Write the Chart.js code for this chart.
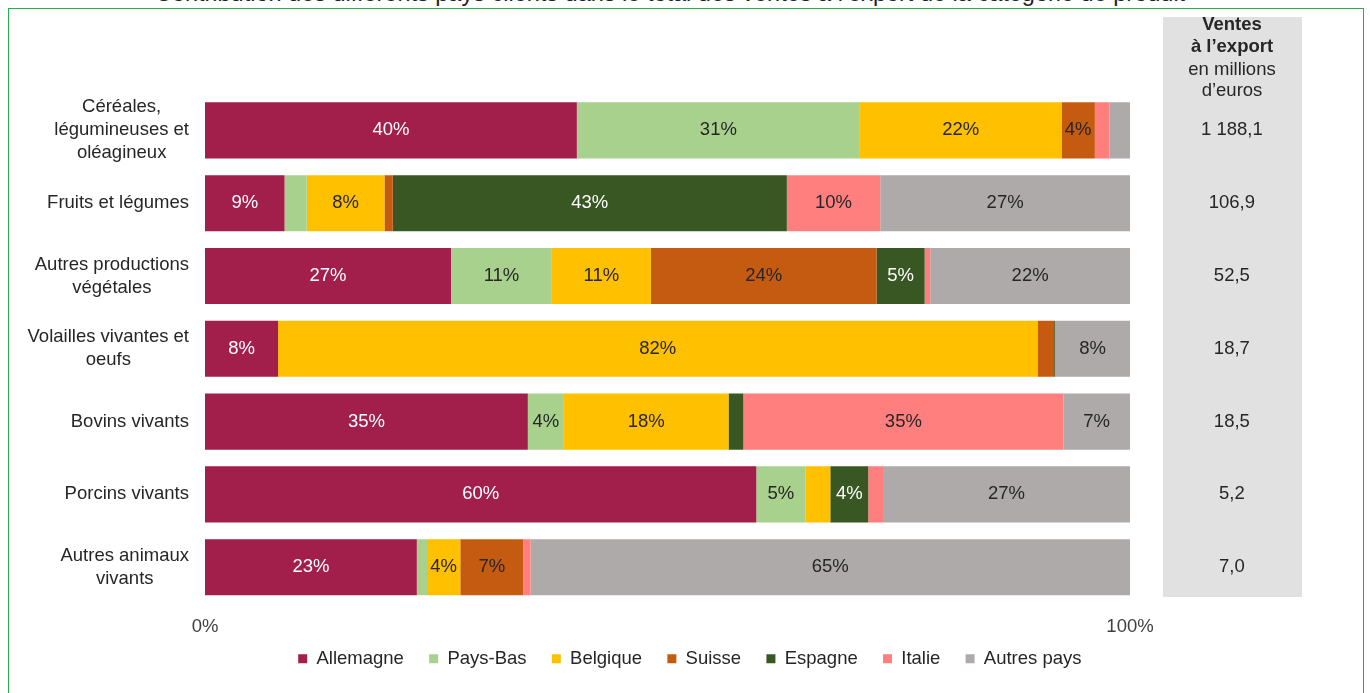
<!DOCTYPE html>
<html lang="fr">
<head>
<meta charset="utf-8">
<script src="https://cdn.jsdelivr.net/npm/chart.js@4.4.1/dist/chart.umd.min.js"></script>
<style>
body { margin: 0; width: 1370px; height: 693px; overflow: hidden; background: #fff; position: relative; font-family: "Liberation Sans", Arial, sans-serif; }
#titre { position: absolute; top: -18px; left: 0; width: 1340px; text-align: center; font-size: 23.5px; line-height: 1; color: #222; white-space: nowrap; }
#cadre { position: absolute; left: 8px; top: 8px; width: 1356px; height: 720px; border: 1px solid #22B14C; box-sizing: border-box; }
#c { position: absolute; left: 0; top: 0; }
</style>
</head>
<body>
<div id="titre">Contribution des différents pays clients dans le total des ventes à l’export de la catégorie de produit</div>
<div id="cadre"></div>
<canvas id="c" width="1370" height="693"></canvas>
<script>
// catégories de produits (libellés sur plusieurs lignes)
const categories = [
    ["Céréales,", "légumineuses et", "oléagineux"],
    ["Fruits et légumes"],
    ["Autres productions", "végétales"],
    ["Volailles vivantes et", "oeufs"],
    ["Bovins vivants"],
    ["Porcins vivants"],
    ["Autres animaux", "vivants"]
];
// ventes à l'export en millions d'euros
const ventes = ["1 188,1", "106,9", "52,5", "18,7", "18,5", "5,2", "7,0"];
const pays = ["Allemagne", "Pays-Bas", "Belgique", "Suisse", "Espagne", "Italie", "Autres pays"];

// parts en % par pays client
const allemagne = [40.2, 8.6, 26.6, 7.9, 34.9, 59.6, 22.9];
const paysBas   = [30.6, 2.4, 10.9, 0, 3.9, 5.3, 1.1];
const belgique  = [21.8, 8.4, 10.7, 82.1, 17.8, 2.7, 3.6];
const suisse    = [3.6, 0.9, 24.4, 1.8, 0, 0, 6.8];
const espagne   = [0, 42.6, 5.2, 0.1, 1.6, 4.1, 0];
const italie    = [1.6, 10.1, 0.6, 0, 34.6, 1.6, 0.8];
const autres    = [2.2, 27.0, 21.6, 8.1, 7.2, 26.7, 64.8];

const series = [allemagne, paysBas, belgique, suisse, espagne, italie, autres];
const couleurs = ['#A21E4B', '#A9D18E', '#FFC000', '#C55A11', '#385723', '#FF7F7F', '#AEAAAA'];
const couleursTexte = ['#ffffff', '#262626', '#262626', '#262626', '#ffffff', '#262626', '#262626'];

const police = "'Liberation Sans', Arial, sans-serif";
Chart.defaults.font.family = police;
Chart.defaults.font.size = 18.5;
Chart.defaults.color = '#262626';

// fond gris + en-tête de la colonne des ventes, libellés de gauche centrés ligne par ligne
const decor = {
    id: 'decor',
    beforeDraw(chart) {
        const ctx = chart.ctx;
        ctx.save();
        ctx.fillStyle = '#E1E1E1';
        ctx.fillRect(1163, 17, 139, 580);
        ctx.fillStyle = '#262626';
        ctx.textAlign = 'center';
        ctx.textBaseline = 'middle';
        ctx.font = 'bold 18.5px ' + police;
        ctx.fillText('Ventes', 1232, 25);
        ctx.fillText('à l’export', 1232, 47);
        ctx.font = '18.5px ' + police;
        ctx.fillText('en millions', 1232, 70);
        ctx.fillText('d’euros', 1232, 91);
        ctx.restore();
    },
    afterDraw(chart) {
        const ctx = chart.ctx;
        const y = chart.scales.y;
        ctx.save();
        ctx.font = '18.5px ' + police;
        ctx.fillStyle = '#262626';
        ctx.textAlign = 'center';
        ctx.textBaseline = 'middle';
        categories.forEach((lignes, i) => {
            const yc = y.getPixelForTick(i);
            const maxW = Math.max(...lignes.map(l => ctx.measureText(l).width));
            const xc = 189 - maxW / 2;
            lignes.forEach((l, k) => {
                ctx.fillText(l, xc, yc + (k - (lignes.length - 1) / 2) * 23);
            });
        });
        ctx.restore();
    }
};

// étiquettes de pourcentage dans les barres
const etiquettes = {
    id: 'etiquettes',
    afterDatasetsDraw(chart) {
        const ctx = chart.ctx;
        ctx.save();
        ctx.font = '18.5px ' + police;
        ctx.textAlign = 'center';
        ctx.textBaseline = 'middle';
        chart.data.datasets.forEach((ds, i) => {
            const meta = chart.getDatasetMeta(i);
            meta.data.forEach((bar, j) => {
                const v = ds.data[j];
                if (v < 3) return;
                ctx.fillStyle = couleursTexte[i];
                ctx.fillText(Math.round(v) + '%', (bar.x + bar.base) / 2, bar.y);
            });
        });
        ctx.restore();
    }
};

new Chart(document.getElementById('c'), {
    type: 'bar',
    data: {
        labels: categories.map(c => c.join(' ')),
        datasets: series.map((s, i) => ({
            label: pays[i],
            data: s,
            backgroundColor: couleurs[i],
            borderWidth: 0,
            barPercentage: 0.77,
            categoryPercentage: 1
        }))
    },
    options: {
        indexAxis: 'y',
        responsive: false,
        animation: false,
        layout: { padding: { left: 50, right: 30, top: 94, bottom: 18.4 } },
        scales: {
            x: {
                stacked: true,
                min: 0,
                max: 100,
                grid: { display: false },
                border: { display: false },
                ticks: { stepSize: 100, padding: 4, color: '#404040', callback: v => v + '%' },
                afterFit: s => { s.height = 31; }
            },
            y: {
                type: 'category',
                stacked: true,
                grid: { display: false },
                border: { display: false },
                ticks: { display: false },
                afterFit: s => { s.width = 155; }
            },
            y2: {
                type: 'category',
                position: 'right',
                labels: ventes,
                offset: true,
                grid: { display: false },
                border: { display: false },
                ticks: { crossAlign: 'center', padding: 63, color: '#262626' },
                afterFit: s => { s.width = 210; }
            }
        },
        plugins: {
            legend: {
                position: 'bottom',
                maxHeight: 40,
                labels: {
                    boxWidth: 9,
                    boxHeight: 9,
                    padding: 15,
                    color: '#262626',
                    generateLabels: chart => Chart.defaults.plugins.legend.labels.generateLabels(chart)
                        .map(item => Object.assign(item, { text: item.text + '  ' }))
                }
            },
            tooltip: { enabled: false }
        }
    },
    plugins: [decor, etiquettes]
});
</script>
</body>
</html>
